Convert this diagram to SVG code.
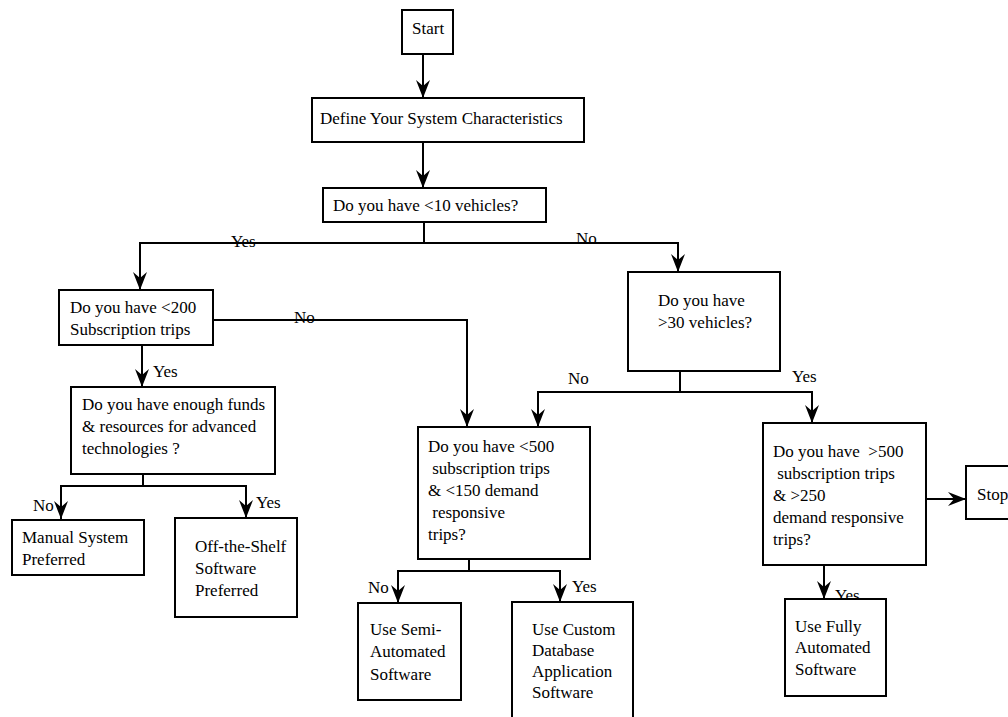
<svg xmlns="http://www.w3.org/2000/svg" width="1008" height="717" viewBox="0 0 1008 717">
<style>
.box{fill:#fff;stroke:#000;stroke-width:2}
.t{font-family:"Liberation Serif","Times New Roman",serif;font-size:17px;fill:#000}
.c{fill:none;stroke:#000;stroke-width:2}
</style>
<defs>
<marker id="ah" markerUnits="userSpaceOnUse" markerWidth="20" markerHeight="16" viewBox="-19 -8 20 16" refX="0" refY="0" orient="auto">
<path d="M0,0 L-18,-7 L-12,0 L-18,7 Z" fill="#000"/>
</marker>
</defs>
<rect width="1008" height="717" fill="#fff"/>
<g id="connectors">
<path class="c" d="M423,54 V98" marker-end="url(#ah)"/>
<path class="c" d="M423,142 V188" marker-end="url(#ah)"/>
<path class="c" d="M424,222 V243 H140 V290" marker-end="url(#ah)"/>
<path class="c" d="M424,243 H678 V272" marker-end="url(#ah)"/>
<path class="c" d="M213,320 H467 V427" marker-end="url(#ah)"/>
<path class="c" d="M142,345 V387" marker-end="url(#ah)"/>
<path class="c" d="M143,474 V486 H61 V519" marker-end="url(#ah)"/>
<path class="c" d="M143,486 H246 V518" marker-end="url(#ah)"/>
<path class="c" d="M680,371 V392 H538 V427" marker-end="url(#ah)"/>
<path class="c" d="M680,392 H812 V423" marker-end="url(#ah)"/>
<path class="c" d="M469,559 V571 H398 V603" marker-end="url(#ah)"/>
<path class="c" d="M469,571 H560 V602" marker-end="url(#ah)"/>
<path class="c" d="M926,499 H966" marker-end="url(#ah)"/>
<path class="c" d="M824,565 V599" marker-end="url(#ah)"/>
</g>
<g id="labels">
<text class="t" x="231" y="247">Yes</text>
<text class="t" x="576" y="244">No</text>
<text class="t" x="294" y="323">No</text>
<text class="t" x="153" y="377">Yes</text>
<text class="t" x="33" y="511">No</text>
<text class="t" x="256" y="508">Yes</text>
<text class="t" x="568" y="384">No</text>
<text class="t" x="792" y="382">Yes</text>
<text class="t" x="368" y="593">No</text>
<text class="t" x="572" y="592">Yes</text>
<text class="t" x="835" y="601">Yes</text>
</g>
<g id="start">
<rect class="box" x="402" y="10" width="51" height="44"/>
<text class="t" x="412" y="34">Start</text>
</g>
<g id="define">
<rect class="box" x="312" y="98" width="272" height="44"/>
<text class="t" x="320" y="124">Define Your System Characteristics</text>
</g>
<g id="q10">
<rect class="box" x="323" y="188" width="223" height="34"/>
<text class="t" x="333" y="211">Do you have &lt;10 vehicles?</text>
</g>
<g id="q200">
<rect class="box" x="59" y="290" width="154" height="55"/>
<text class="t" x="70" y="313">Do you have &lt;200</text>
<text class="t" x="70" y="335">Subscription trips</text>
</g>
<g id="qfunds">
<rect class="box" x="71" y="387" width="204" height="87"/>
<text class="t" x="82" y="410">Do you have enough funds</text>
<text class="t" x="82" y="432">&amp; resources for advanced</text>
<text class="t" x="82" y="454">technologies ?</text>
</g>
<g id="manual">
<rect class="box" x="12" y="520" width="132" height="55"/>
<text class="t" x="22" y="543">Manual System</text>
<text class="t" x="22" y="565">Preferred</text>
</g>
<g id="offshelf">
<rect class="box" x="175" y="518" width="122" height="99"/>
<text class="t" x="195" y="552">Off-the-Shelf</text>
<text class="t" x="195" y="574">Software</text>
<text class="t" x="195" y="596">Preferred</text>
</g>
<g id="q30">
<rect class="box" x="628" y="272" width="152" height="99"/>
<text class="t" x="658" y="306">Do you have</text>
<text class="t" x="658" y="328">&gt;30 vehicles?</text>
</g>
<g id="q500">
<rect class="box" x="418" y="427" width="172" height="132"/>
<text class="t" x="428" y="452" xml:space="preserve">Do you have &lt;500</text>
<text class="t" x="428" y="474" xml:space="preserve"> subscription trips</text>
<text class="t" x="428" y="496" xml:space="preserve">&amp; &lt;150 demand</text>
<text class="t" x="428" y="518" xml:space="preserve"> responsive</text>
<text class="t" x="428" y="540">trips?</text>
</g>
<g id="q500b">
<rect class="box" x="763" y="423" width="163" height="142"/>
<text class="t" x="773" y="457" xml:space="preserve">Do you have  &gt;500</text>
<text class="t" x="773" y="479" xml:space="preserve"> subscription trips</text>
<text class="t" x="773" y="501" xml:space="preserve">&amp; &gt;250</text>
<text class="t" x="773" y="523">demand responsive</text>
<text class="t" x="773" y="545">trips?</text>
</g>
<g id="stop">
<rect class="box" x="966" y="466" width="50" height="53"/>
<text class="t" x="977" y="500">Stop</text>
</g>
<g id="semi">
<rect class="box" x="358" y="603" width="103" height="97"/>
<text class="t" x="370" y="635">Use Semi-</text>
<text class="t" x="370" y="657">Automated</text>
<text class="t" x="370" y="680">Software</text>
</g>
<g id="custom">
<rect class="box" x="512" y="602" width="121" height="125"/>
<text class="t" x="532" y="635">Use Custom</text>
<text class="t" x="532" y="656">Database</text>
<text class="t" x="532" y="677">Application</text>
<text class="t" x="532" y="698">Software</text>
</g>
<g id="fully">
<rect class="box" x="785" y="599" width="101" height="97"/>
<text class="t" x="795" y="632">Use Fully</text>
<text class="t" x="795" y="653">Automated</text>
<text class="t" x="795" y="675">Software</text>
</g>
</svg>
